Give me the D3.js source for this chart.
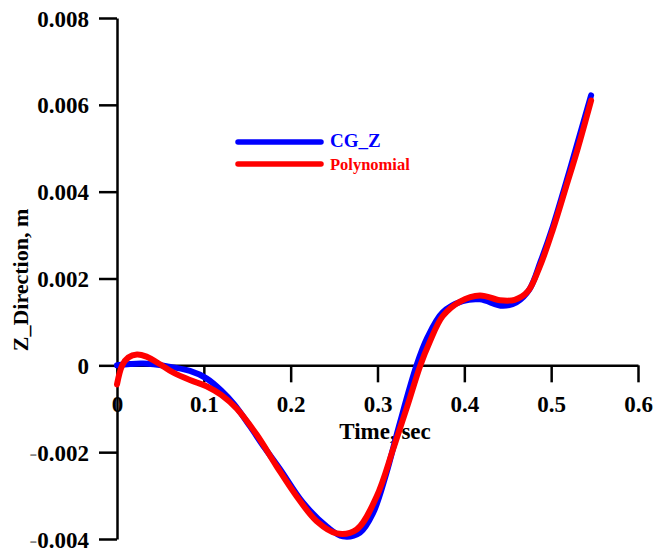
<!DOCTYPE html>
<html>
<head>
<meta charset="utf-8">
<script src="https://cdn.jsdelivr.net/npm/d3@7"></script>
<style>
  html, body { margin: 0; padding: 0; background: #fff; }
  svg { display: block; }
  text { font-family: "Liberation Serif", "Times New Roman", serif; font-weight: bold; }
</style>
</head>
<body>
<svg id="chart" width="656" height="553"></svg>
<script>
// ---- Data ----
const tBlue = [0, 0.015, 0.03, 0.057, 0.084, 0.103, 0.12, 0.135, 0.153, 0.17, 0.188, 0.214, 0.242, 0.26, 0.28, 0.295, 0.31, 0.325, 0.345, 0.357, 0.375, 0.398, 0.418, 0.444, 0.46, 0.475, 0.488, 0.502, 0.517, 0.53, 0.546];
const vBlue = [0, 0.00003, 0.00004, -0.00002, -0.00013, -0.0003, -0.00058, -0.0009, -0.0014, -0.0019, -0.0024, -0.00316, -0.00372, -0.00394, -0.00385, -0.0034, -0.0025, -0.00138, 0.0, 0.00062, 0.00122, 0.00148, 0.00152, 0.00137, 0.00145, 0.00175, 0.0024, 0.0032, 0.0042, 0.0051, 0.00622];

const tRed = [0, 0.006, 0.013, 0.023, 0.034, 0.05, 0.065, 0.084, 0.103, 0.12, 0.138, 0.161, 0.184, 0.207, 0.23, 0.253, 0.276, 0.299, 0.318, 0.335, 0.349, 0.36, 0.375, 0.395, 0.418, 0.441, 0.458, 0.473, 0.487, 0.502, 0.517, 0.53, 0.546];
const vRed = [-0.00044, 0.0, 0.00018, 0.00025, 0.0002, 0.00002, -0.00017, -0.00034, -0.00048, -0.00068, -0.001, -0.0016, -0.00233, -0.00302, -0.00359, -0.00387, -0.00378, -0.00302, -0.00193, -0.0009, -0.00002, 0.00053, 0.00113, 0.00147, 0.00161, 0.0015, 0.00151, 0.0017, 0.00228, 0.00313, 0.0041, 0.00495, 0.0061];

const xTicks = [0, 0.1, 0.2, 0.3, 0.4, 0.5, 0.6];
const xTickLabels = ["0", "0.1", "0.2", "0.3", "0.4", "0.5", "0.6"];
const yTicks = [-0.004, -0.002, 0, 0.002, 0.004, 0.006, 0.008];
const yTickLabels = ["-0.004", "-0.002", "0", "0.002", "0.004", "0.006", "0.008"];
const seriesNames = ["CG_Z", "Polynomial"];
const seriesColors = ["#0000ff", "#ff0000"];
const xTitle = "Time, sec";
const yTitle = "Z_Direction, m";

// ---- Chart ----
const svg = d3.select("#chart");
svg.append("rect").attr("width", 656).attr("height", 553).attr("fill", "#fff");

const x = d3.scaleLinear().domain([0, 0.6]).range([117, 638]);
const y = d3.scaleLinear().domain([-0.004, 0.008]).range([539, 18]);

// y axis
const yAxis = svg.append("g")
  .attr("transform", `translate(${x(0)},0)`)
  .call(d3.axisLeft(y).tickValues(yTicks).tickSize(18).tickSizeOuter(0)
    .tickFormat((d, i) => yTickLabels[i]));
yAxis.select(".domain").attr("stroke", "#000").attr("stroke-width", 2.5);
yAxis.selectAll(".tick line").attr("stroke", "#000").attr("stroke-width", 2.5);
yAxis.selectAll(".tick text")
  .attr("x", -28).attr("dy", "0.35em")
  .attr("fill", "#000").style("font-size", "23px")
  .style("font-family", "'Liberation Serif', 'Times New Roman', serif").style("font-weight", "bold")
  .each(function(d, i) {
    const lab = yTickLabels[i];
    const t = d3.select(this);
    if (lab.startsWith("-")) {
      t.text(null);
      t.append("tspan").attr("fill", "#888").style("font-weight", "normal").text("-");
      t.append("tspan").text(lab.slice(1));
    }
  });

// x axis at y=0
const xAxis = svg.append("g")
  .attr("transform", `translate(0,${y(0)})`)
  .call(d3.axisBottom(x).tickValues(xTicks).tickSize(17).tickSizeOuter(0)
    .tickFormat((d, i) => xTickLabels[i]));
xAxis.select(".domain").attr("stroke", "#000").attr("stroke-width", 2.5);
xAxis.selectAll(".tick line").attr("stroke", "#000").attr("stroke-width", 2.5);
xAxis.selectAll(".tick text")
  .attr("y", 47).attr("dy", 0)
  .attr("fill", "#000").style("font-size", "23px")
  .style("font-family", "'Liberation Serif', 'Times New Roman', serif").style("font-weight", "bold");

// axis titles
svg.append("text")
  .attr("x", 385).attr("y", 439)
  .attr("text-anchor", "middle")
  .style("font-size", "23px").attr("fill", "#000")
  .text(xTitle);

svg.append("text")
  .attr("transform", "translate(28,280) rotate(-90)")
  .attr("text-anchor", "middle")
  .style("font-size", "22px").attr("fill", "#000")
  .text(yTitle);

// lines
const line = d3.line()
  .x(d => x(d[0]))
  .y(d => y(d[1]))
  .curve(d3.curveCatmullRom.alpha(0.5));

const blueData = tBlue.map((t, i) => [t, vBlue[i]]);
const redData = tRed.map((t, i) => [t, vRed[i]]);

svg.append("path").datum(blueData)
  .attr("d", line).attr("fill", "none")
  .attr("stroke", seriesColors[0]).attr("stroke-width", 6)
  .attr("stroke-linecap", "round").attr("stroke-linejoin", "round");

svg.append("path").datum(redData)
  .attr("d", line).attr("fill", "none")
  .attr("stroke", seriesColors[1]).attr("stroke-width", 6)
  .attr("stroke-linecap", "round").attr("stroke-linejoin", "round");

// legend
const legY = [142, 164];
const legSizes = [19, 16.5];
seriesNames.forEach((name, i) => {
  svg.append("line")
    .attr("x1", 238).attr("x2", 321)
    .attr("y1", legY[i]).attr("y2", legY[i])
    .attr("stroke", seriesColors[i]).attr("stroke-width", 5.5)
    .attr("stroke-linecap", "round");
  svg.append("text")
    .attr("x", 330).attr("y", legY[i] + (i === 0 ? 5 : 5.5))
    .attr("fill", seriesColors[i])
    .style("font-size", legSizes[i] + "px")
    .text(name);
});
</script>
</body>
</html>
